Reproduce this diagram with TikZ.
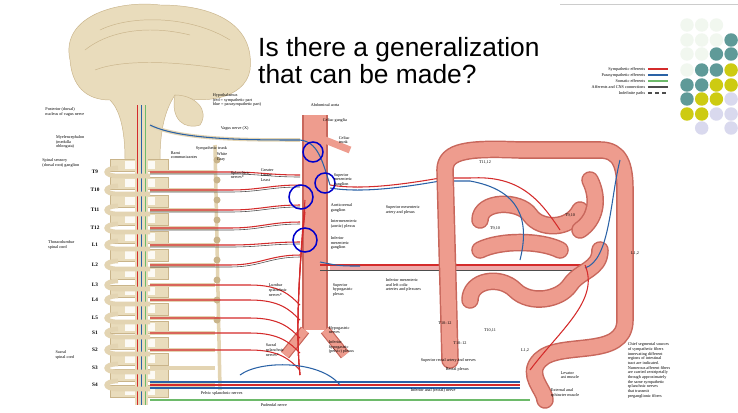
\documentclass[tikz,border=0pt]{standalone}
\usepackage{fontspec}
\setmainfont{Liberation Serif}
\newfontfamily\arialf{Liberation Sans}
\usetikzlibrary{arrows.meta}
\definecolor{bone}{HTML}{E9DCBC}
\definecolor{bonedk}{HTML}{C9B48A}
\definecolor{pinkc}{HTML}{EE9C8E}
\definecolor{pinkd}{HTML}{C8675C}
\definecolor{symp}{HTML}{D42B2B}
\definecolor{para}{HTML}{2A62A6}
\definecolor{soma}{HTML}{6DBA6A}
\definecolor{affc}{HTML}{4D4D4D}
\definecolor{teal}{HTML}{5F9A98}
\definecolor{yell}{HTML}{CDCB12}
\definecolor{lav}{HTML}{D9D9EE}
\definecolor{pale}{HTML}{F1F7EF}
\tikzset{
 tiny/.style={font=\fontsize{3.6}{4}\selectfont,align=left,inner sep=0.5pt},
 lvl/.style={font=\fontsize{4.5}{5}\selectfont\bfseries,inner sep=0.5pt},
 sn/.style={symp,line width=0.9pt},
 pn/.style={para,line width=0.9pt},
 gn/.style={affc,line width=0.5pt},
 tan/.style={bone!80!bonedk,line width=4pt},
 gut/.style={pinkd,line width=15pt,line cap=round,line join=round},
 gutin/.style={pinkc,line width=12.5pt,line cap=round,line join=round},
 ring/.style={blue!80!black,line width=1.3pt},
 dot/.style={circle,inner sep=0pt,minimum size=11.5pt},
 bonefill/.style={fill=bone,draw=bonedk,line width=0.4pt},
 legline/.style={line width=1pt},
}
\begin{document}
\begin{tikzpicture}[x=0.03cm,y=-0.03cm]
\useasboundingbox (0,0) rectangle (738,412);
\fill[white] (0,0) rectangle (738,412);
\draw[gray!40,line width=0.8pt] (560,4) -- (738,4);
% brain
\draw[bonefill] (70,60) .. controls (60,15) and (120,0) .. (160,5) .. controls (215,5) and (255,25) .. (250,70) .. controls (245,100) and (200,105) .. (175,95) .. controls (165,110) and (160,130) .. (160,160) -- (125,160) .. controls (125,130) and (120,110) .. (110,100) .. controls (85,100) and (72,85) .. (70,60) -- cycle;
\draw[bonedk,line width=0.4pt] (85,50) .. controls (110,30) and (150,25) .. (190,35) (95,70) .. controls (120,60) and (170,60) .. (230,70) (100,30) .. controls (130,15) and (190,15) .. (230,40);
\draw[bonefill] (175,95) .. controls (195,95) and (210,110) .. (200,125) .. controls (185,130) and (170,120) .. (175,95);
% spine
\foreach \y in {165,183,201,219,237,255,273,291,309,327,343,359,375,391}{
  \draw[bonefill] (110,\y-6) rectangle (168,\y+6);
  \fill[white!85!bone] (125,\y-4) rectangle (155,\y+4);
}
\fill[bone] (135,150) rectangle (148,405);
\draw[symp,line width=0.7pt] (137,105) -- (137,405);
\draw[para,line width=0.7pt] (141,105) -- (141,405);
\draw[soma,line width=0.7pt] (145,105) -- (145,405);
% levels
\foreach \n/\y in {T9/172,T10/190,T11/210,T12/228,L1/245,L2/265,L3/285,L4/300,L5/318,S1/333,S2/350,S3/368,S4/385}{
  \draw[tan] (118,\y-4) .. controls (103,\y-4) and (103,\y+4) .. (118,\y+4) -- (150,\y+4);
  \draw[tan] (150,\y) -- (215,\y);
  \node[lvl] (\n) at (95,\y) {\n};
}
% sympathetic trunk
\draw[bone!80!bonedk,line width=3pt] (215,145) -- (220,390);
\foreach \y in {160,180,200,220,240,260,280,300,320}{\fill[bonedk] (217,\y) circle (3.5);}
% splanchnic nerves
\foreach \y/\e in {172/175,190/185,210/205,228/222,245/242,265/255}{
  \draw[sn] (150,\y) -- (230,\y) .. controls (260,\y) and (270,\e) .. (300,\e);
  \draw[gn] (150,\y+2) -- (230,\y+2) .. controls (260,\y+2) and (270,\e+2) .. (300,\e+2);
}
% aorta
\draw[pinkd,line width=22pt] (315,115) -- (315,330);
\draw[pinkc,line width=19pt] (315,115) -- (315,330);
\draw[pinkd,line width=9pt] (305,330) -- (285,355) (325,330) -- (345,355);
\draw[pinkc,line width=7pt] (305,330) -- (285,355) (325,330) -- (345,355);
\draw[pinkc,line width=6pt] (325,140) -- (350,150);
% vagus
\draw[bone!80!bonedk,line width=3pt] (150,125) .. controls (180,140) and (250,140) .. (300,140);
\draw[pn] (150,125) .. controls (180,140) and (250,140) .. (300,140) .. controls (318,142) and (322,160) .. (330,185);
% superior mesenteric
\draw[sn] (330,185) .. controls (360,190) and (400,185) .. (440,178) -- (470,178);
\draw[pn] (330,188) .. controls (360,193) and (400,188) .. (440,181) -- (470,181);
\draw[symp!40,line width=3pt] (330,268) -- (585,268);
\draw[sn] (320,265) -- (585,265); \draw[gn] (320,270) -- (585,270);
\draw[pn] (320,262) .. controls (340,266) .. (360,266);
% lumbar/sacral nerves
\foreach \y in {285,300,318,333,350}{
  \draw[sn] (150,\y) -- (250,\y) .. controls (280,\y) and (290,\y+10) .. (300,\y+20);
}
\foreach \o in {0,6,12}{
  \draw[sn] (305,200+\o) .. controls (300,260) and (295,330) .. (300,375);
}
% pelvic
\draw[pn] (150,382) -- (520,382); \draw[pn] (150,388) -- (520,388);
\draw[sn] (150,385) -- (520,385);
\draw[soma,line width=1pt] (150,400) -- (530,400);
\draw[pn] (240,375) .. controls (260,360) and (320,360) .. (340,385);
% colon
\def\colonpath{(450,360) -- (445,170) .. controls (445,150) and (470,148) .. (520,150) -- (600,150) .. controls (620,150) and (625,165) .. (625,190) -- (625,320) .. controls (625,360) and (560,340) .. (540,360) .. controls (525,375) and (545,390) .. (545,400)}
\draw[gut] \colonpath; \draw[gutin] \colonpath;
\foreach \p in {{(480,220) .. controls (480,200) and (520,200) .. (530,215) .. controls (540,230) and (570,230) .. (580,210)},
{(470,300) .. controls (470,280) and (500,275) .. (515,290) .. controls (530,305) and (560,300) .. (570,285) .. controls (580,270) and (600,270) .. (600,250)},
{(480,250) .. controls (500,240) and (540,240) .. (560,250)},
{(590,180) .. controls (600,200) and (595,220) .. (580,230)}}{
  \draw[gut] \p; \draw[gutin] \p;
}
\draw[sn] (470,178) .. controls (520,175) and (540,200) .. (560,230);
\draw[pn] (470,181) .. controls (520,190) and (530,220) .. (520,260);
\draw[pn] (585,268) .. controls (610,260) and (610,200) .. (620,160);
\draw[sn] (585,265) .. controls (600,300) and (560,330) .. (530,370);
% rings
\draw[ring] (313,152) circle (10);
\draw[ring] (325,183) circle (10);
\draw[ring] (301,197) circle (12);
\draw[ring] (305,240) circle (12);
% labels
\node[tiny,anchor=west] at (212,100) {Hypothalamus\\(red = sympathetic part\\blue = parasympathetic part)};
\node[tiny,anchor=east] at (85,112) {Posterior (dorsal)\\nucleus of vagus nerve};
\node[tiny,anchor=east] at (85,142) {Myelencephalon\\(medulla\\oblongata)};
\node[tiny,anchor=east] at (80,163) {Spinal sensory\\(dorsal root) ganglion};
\node[tiny,anchor=east] at (75,245) {Thoracolumbar\\spinal cord};
\node[tiny,anchor=east] at (75,355) {Sacral\\spinal cord};
\node[tiny,anchor=west] at (220,128) {Vagus nerve (X)};
\node[tiny,anchor=west] at (195,148) {Sympathetic trunk};
\node[tiny,anchor=west] at (170,155) {Rami\\communicantes};
\node[tiny,anchor=west] at (216,157) {White\\Gray};
\node[tiny,anchor=west] at (230,175) {Splanchnic\\nerves*};
\node[tiny,anchor=west] at (260,175) {Greater\\Lesser\\Least};
\node[tiny,anchor=west] at (310,105) {Abdominal aorta};
\node[tiny,anchor=west] at (322,120) {Celiac ganglia};
\node[tiny,anchor=west] at (338,140) {Celiac\\trunk};
\node[tiny,anchor=west] at (333,180) {Superior\\mesenteric\\ganglion};
\node[tiny,anchor=west] at (330,208) {Aorticorenal\\ganglion};
\node[tiny,anchor=west] at (330,224) {Intermesenteric\\(aortic) plexus};
\node[tiny,anchor=west] at (330,243) {Inferior\\mesenteric\\ganglion};
\node[tiny,anchor=west] at (385,210) {Superior mesenteric\\artery and plexus};
\node[tiny,anchor=west] at (385,285) {Inferior mesenteric\\and left colic\\arteries and plexuses};
\node[tiny,anchor=west] at (332,290) {Superior\\hypogastric\\plexus};
\node[tiny,anchor=west] at (268,290) {Lumbar\\splanchnic\\nerves*};
\node[tiny,anchor=west] at (328,330) {Hypogastric\\nerves};
\node[tiny,anchor=west] at (328,347) {Inferior\\hypogastric\\(pelvic) plexus};
\node[tiny,anchor=west] at (265,350) {Sacral\\splanchnic\\nerves*};
\node[tiny,anchor=west] at (420,360) {Superior rectal artery and nerves};
\node[tiny,anchor=west] at (445,369) {Rectal plexus};
\node[tiny,anchor=west] at (410,390) {Inferior anal (rectal) nerve};
\node[tiny,anchor=west] at (200,393) {Pelvic splanchnic nerves};
\node[tiny,anchor=west] at (260,405) {Pudendal nerve};
\node[tiny,anchor=west] at (560,375) {Levator\\ani muscle};
\node[tiny,anchor=west] at (550,393) {External anal\\sphincter muscle};
\node[tiny] at (485,162) {T11,12};
\node[tiny] at (495,228) {T9,10};
\node[tiny] at (570,215) {T9,10};
\node[tiny] at (635,253) {L1,2};
\node[tiny] at (445,323) {T10--12};
\node[tiny] at (490,330) {T10,11};
\node[tiny] at (460,343) {T10--12};
\node[tiny] at (525,350) {L1,2};
\node[tiny,anchor=north west] at (627,342) {Chief segmental sources\\of sympathetic fibers\\innervating different\\regions of intestinal\\tract are indicated.\\Numerous afferent fibers\\are carried centripetally\\through approximately\\the same sympathetic\\splanchnic nerves\\that transmit\\preganglionic fibers};
% legend
\node[tiny,anchor=east] (lg1) at (646,69) {Sympathetic efferents};
\node[tiny,anchor=east] (lg2) at (646,75) {Parasympathetic efferents};
\node[tiny,anchor=east] (lg3) at (646,81) {Somatic efferents};
\node[tiny,anchor=east] (lg4) at (646,87) {Afferents and CNS connections};
\node[tiny,anchor=east] (lg5) at (646,93) {Indefinite paths};
\draw[legline,symp] (648,69) -- (668,69);
\draw[legline,para] (648,75) -- (668,75);
\draw[legline,soma] (648,81) -- (668,81);
\draw[legline,affc] (648,87) -- (668,87);
\draw[legline,affc,dashed] (648,93) -- (668,93);
% title
\node[font=\arialf\fontsize{22.5}{23.5}\selectfont,align=left,anchor=north west,inner sep=0pt] (title) at (258,37) {Is there a generalization\\that can be made?};
% dot grid
\foreach \r/\row in {25/{pale,pale,pale,none},40/{pale,pale,pale,teal},54/{pale,pale,teal,teal},70/{pale,teal,teal,yell},85/{teal,teal,yell,yell},99/{teal,yell,yell,lav},114/{yell,yell,lav,lav},128/{none,lav,none,lav}}{
  \foreach \c [count=\j from 0] in \row {
    \pgfmathsetmacro\xx{687+14.7*\j}
    \edef\tmp{\c}\def\nonestr{none}
    \ifx\tmp\nonestr\else \node[dot,fill=\c] at (\xx,\r) {};\fi
  }
}
\end{tikzpicture}
\end{document}
